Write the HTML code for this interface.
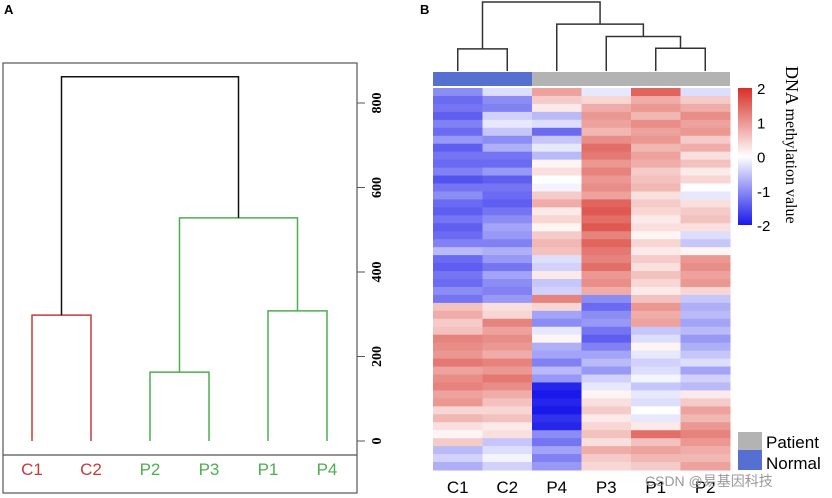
<!DOCTYPE html>
<html><head><meta charset="utf-8"><style>
body{margin:0;background:#fff;width:832px;height:498px;overflow:hidden}
svg{display:block;font-family:"Liberation Sans",sans-serif}
</style></head><body>
<svg id="s" width="832" height="498">
<text x="4" y="14" font-weight="bold" font-size="13">A</text>
<text x="420" y="14" font-weight="bold" font-size="13">B</text>
<rect x="3" y="63" width="354" height="430" fill="none" stroke="#555" stroke-width="1.2"/>
<line x1="3" y1="455" x2="357" y2="455" stroke="#555" stroke-width="1.2"/>
<g id="gA"></g>
<g id="gAx"></g>
<g id="gB"></g>
<g id="gH"></g>
<g id="gC"></g>
<text transform="translate(786,66) rotate(90)" font-family="Liberation Serif,serif" font-size="18">DNA <tspan font-size="16">methylation value</tspan></text>
<rect x="738" y="432" width="24" height="18" fill="#b3b3b3"/>
<rect x="738" y="450" width="24" height="20" fill="#5570d0"/>
<text x="766" y="448" font-size="17">Patient</text>
<text x="766" y="469" font-size="17">Normal</text>
<text x="645" y="486" font-size="14" fill="#999" font-family="Liberation Sans,'Noto Sans CJK SC',sans-serif">CSDN @易基因科技</text>
</svg>
<script>
const NS="http://www.w3.org/2000/svg";
function mk(p,t,a){const e=document.createElementNS(NS,t);for(const k in a)e.setAttribute(k,a[k]);p.appendChild(e);return e;}
// Panel A data
const leavesA=["C1","C2","P2","P3","P1","P4"];
const mergeC=298, mergeP23=163, mergeP14=308, mergeP=528, mergeRoot=862;
const ticksA=[0,200,400,600,800];
const yA=v=>441-v*338/800, xA=i=>32+i*59;
const gA=document.getElementById('gA');
function ub(p,x1,x2,y1b,y2b,yt,c,name){const e=mk(p,'path',{d:`M${x1},${y1b}V${yt}H${x2}V${y2b}`,fill:'none',stroke:c,'stroke-width':1.5});}
const red="#c83a3a",grn="#4caf50";
ub(gA,xA(0),xA(1),yA(0),yA(0),yA(mergeC),red,'branch-c1-c2');
ub(gA,xA(2),xA(3),yA(0),yA(0),yA(mergeP23),grn,'branch-p2-p3');
ub(gA,xA(4),xA(5),yA(0),yA(0),yA(mergeP14),grn,'branch-p1-p4');
const mP23=(xA(2)+xA(3))/2,mP14=(xA(4)+xA(5))/2,mC=(xA(0)+xA(1))/2,mP=(mP23+mP14)/2;
ub(gA,mP23,mP14,yA(mergeP23),yA(mergeP14),yA(mergeP),grn,'branch-patients');
ub(gA,mC,mP,yA(mergeC),yA(mergeP),yA(mergeRoot),'#111','branch-root');
leavesA.forEach((l,i)=>{const t=mk(gA,'text',{x:xA(i),y:475,'text-anchor':'middle','font-size':17,fill:l[0]=='C'?red:grn});t.textContent=l;

});
const gAx=document.getElementById('gAx');
mk(gAx,'line',{x1:357,y1:yA(0),x2:357,y2:yA(800),stroke:'#555'});
ticksA.forEach(v=>{mk(gAx,'line',{x1:357,x2:365,y1:yA(v),y2:yA(v),stroke:'#555'});
const t=mk(gAx,'text',{transform:`translate(376,${yA(v)}) rotate(-90)`,'text-anchor':'middle','font-size':14,'font-family':'Liberation Serif,serif','font-weight':'bold',dy:'0.35em'});t.textContent=v;

});
// Panel B data
const cols=["C1","C2","P4","P3","P1","P2"];
const C1=[-1.0,-1.3,-1.2,-1.4,-1.1,-1.3,-0.9,-1.4,-1.2,-1.3,-1.1,-1.5,-1.2,-1.0,-1.3,-1.4,-1.2,-1.4,-1.3,-1.1,-0.6,-1.3,-1.4,-1.2,-1.3,-1.0,-1.2,0.6,0.8,0.5,0.6,1.2,1.1,1.0,1.3,0.9,1.1,1.2,0.9,1.0,0.4,0.7,0.3,0.1,0.5,-0.6,-0.4,-0.7];
const C2=[-0.3,-1.0,-1.1,-0.4,-0.2,-0.5,-1.0,-0.7,-1.2,-1.3,-0.9,-1.4,-1.2,-1.3,-1.4,-1.2,-1.0,-0.8,-0.9,-1.1,-0.7,-0.9,-1.2,-0.8,-1.0,-1.1,-0.9,0.3,0.4,1.2,0.9,1.1,1.0,0.8,1.2,1.0,1.3,1.1,0.8,0.6,0.4,0.6,0.2,0.3,-0.5,-0.3,-0.1,-0.4];
const P4=[0.9,0.5,0.2,-0.6,-0.3,-1.3,-0.5,-0.2,-0.6,0.1,0.3,0.0,-0.1,0.5,0.8,0.2,0.4,0.1,0.5,0.7,0.6,-0.3,-0.4,0.2,-0.5,-0.4,1.2,0.4,-0.8,-1.0,-0.2,0.1,-0.7,-0.8,-1.1,-0.6,-0.9,-1.9,-2.0,-1.9,-2.0,-1.8,-1.9,-1.0,-1.2,-0.8,-1.1,-0.9];
const P3=[-0.2,0.4,0.8,1.0,0.9,0.7,1.1,1.4,1.3,1.0,1.2,1.0,1.1,0.9,1.5,1.6,1.4,1.6,1.2,1.5,1.3,1.2,1.4,1.0,1.1,0.8,-1.0,-1.3,-1.0,-0.9,-1.2,-1.4,-1.1,-0.8,-0.6,-0.9,-0.4,-0.2,0.1,0.3,0.5,0.2,0.4,0.6,0.3,0.8,0.5,0.4];
const P1=[1.5,0.8,1.0,0.7,1.1,0.9,1.0,0.7,0.9,0.8,0.5,0.6,0.7,0.3,0.5,0.4,0.2,0.3,0.1,0.4,0.2,0.5,0.3,0.6,0.4,0.2,0.6,1.0,0.8,0.9,-0.5,-0.3,0.1,-0.2,-0.4,-0.3,-0.1,-0.5,-0.2,-0.3,0.0,-0.2,0.2,1.4,0.6,0.9,0.7,0.5];
const P2=[-0.3,0.5,0.8,1.1,0.9,1.0,0.5,0.8,0.3,0.6,0.2,0.4,0.0,-0.2,0.3,0.5,0.6,0.3,-0.3,-0.5,0.1,1.0,1.1,0.9,1.0,0.4,-0.5,-0.7,-0.6,-0.8,-0.6,-0.9,-0.7,-0.5,-0.3,-0.8,-0.4,-0.6,0.2,0.5,0.9,0.7,1.0,1.2,1.0,0.8,0.7,0.9];
const groups=["Normal","Normal","Patient","Patient","Patient","Patient"];
const hB=[0.32,0.33,0.5,0.68,1.0]; // C1C2, P1P2, P3+, P4+, root
const cbTicks=[2,1,0,-1,-2];
const HX=433,HY=88,HW=297,HH=382,cw=HW/6;
const xB=i=>HX+cw*i+cw/2, yB=h=>71-69*h;
function col(v){v=Math.max(-2,Math.min(2,v))/2;let a=Math.abs(v);const t=v>0?[215,48,39]:[25,25,235];
return `rgb(${Math.round(255+(t[0]-255)*a)},${Math.round(255+(t[1]-255)*a)},${Math.round(255+(t[2]-255)*a)})`;}
const gH=document.getElementById('gH');
const data=[C1,C2,P4,P3,P1,P2];
data.forEach((arr,c)=>{const rh=HH/arr.length;arr.forEach((v,r)=>{const e=mk(gH,'rect',{x:HX+c*cw,y:HY+r*rh,width:cw+0.5,height:rh+0.5,fill:col(v)});

});
const a=mk(gH,'rect',{x:HX+c*cw,y:72,width:cw,height:14,fill:groups[c]=="Normal"?'#5570d0':'#b3b3b3'});


const t=mk(gH,'text',{x:xB(c),y:493,'text-anchor':'middle','font-size':17});t.textContent=cols[c];

});
const gB=document.getElementById('gB');
const mC2=(xB(0)+xB(1))/2,m12=(xB(4)+xB(5))/2,m3=(xB(3)+m12)/2,m4=(xB(2)+m3)/2;
ub(gB,xB(0),xB(1),71,71,yB(hB[0]),'#333','b-branch-c1-c2');
ub(gB,xB(4),xB(5),71,71,yB(hB[1]),'#333','b-branch-p1-p2');
ub(gB,xB(3),m12,71,yB(hB[1]),yB(hB[2]),'#333','b-branch-p3');
ub(gB,xB(2),m3,71,yB(hB[2]),yB(hB[3]),'#333','b-branch-p4');
ub(gB,mC2,m4,yB(hB[0]),yB(hB[3]),yB(hB[4]),'#333','b-branch-root');
const gC=document.getElementById('gC');
const defs=mk(gC,'defs',{});const lg=mk(defs,'linearGradient',{id:'cg',x1:0,y1:0,x2:0,y2:1});
[[0,col(2)],[0.5,'#fff'],[1,col(-2)]].forEach(s=>mk(lg,'stop',{offset:s[0],'stop-color':s[1]}));
mk(gC,'rect',{x:738,y:88,width:14,height:137,fill:'url(#cg)'});
cbTicks.forEach(v=>{const t=mk(gC,'text',{x:757,y:88+(2-v)/4*137+6,'font-size':15});t.textContent=v;

});
</script>
</body></html>
